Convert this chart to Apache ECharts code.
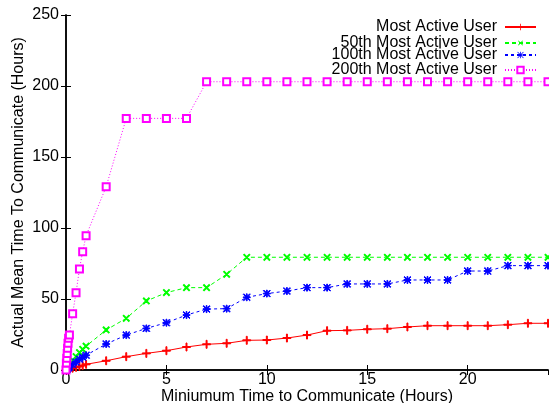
<!DOCTYPE html>
<html lang="en">
  <head>
    <meta charset="UTF-8" />
    <title>Mean Time To Communicate</title>
    <style>
      html, body { margin: 0; padding: 0; background: #fff; }
      #chart { width: 549px; height: 403px; }
    </style>
  </head>
  <body>
    <div id="chart"></div>
    <script src="https://cdn.jsdelivr.net/npm/echarts@6/dist/echarts.min.js"></script>
    <script>
      // x samples (hours): fine steps near 0, then hourly
      var hours = [0, 0.02, 0.04, 0.06, 0.08, 0.1, 0.13, 0.17, 0.33, 0.5, 0.67, 0.83, 1,
        2, 3, 4, 5, 6, 7, 8, 9, 10, 11, 12, 13, 14, 15, 16, 17, 18, 19, 20, 21, 22, 23, 24];

      var mostActive = [0, 0.1, 0.2, 0.3, 0.4, 0.5, 0.6, 0.8, 1.3, 1.9, 2.5, 3.1, 4.0,
        6.5, 9.4, 11.7, 13.6, 16.2, 18.1, 18.8, 20.9, 21.1, 22.5, 24.6, 27.7, 27.9, 28.7,
        29.1, 30.3, 31.2, 31.2, 31.2, 31.2, 31.9, 32.9, 32.9];
      var active50 = [0, 0.6, 1.1, 1.6, 2.1, 2.6, 3.2, 4.0, 6.8, 9.5, 12.3, 14.6, 16.8,
        28.2, 36.4, 48.6, 54.5, 58.0, 58.0, 67.4, 79.4, 79.4, 79.4, 79.4, 79.4, 79.4, 79.4,
        79.4, 79.4, 79.4, 79.4, 79.4, 79.4, 79.4, 79.4, 79.4];
      var active100 = [0, 0.3, 0.6, 0.9, 1.2, 1.5, 1.9, 2.3, 3.8, 5.6, 7.6, 9.0, 10.4,
        18.3, 24.6, 29.3, 33.3, 38.7, 42.9, 43.2, 51.2, 53.8, 55.6, 58.0, 58.0, 60.6, 60.6,
        60.6, 63.4, 63.4, 63.4, 69.7, 69.7, 73.5, 73.5, 73.5];
      var active200 = [0, 4.9, 8.2, 11.7, 15.3, 18.8, 22.3, 24.6, 39.6, 54.4, 71.1, 83.3, 94.6,
        129.1, 177.2, 177.2, 177.2, 177.2, 203, 203, 203, 203, 203, 203, 203, 203, 203,
        203, 203, 203, 203, 203, 203, 203, 203, 203];

      var names = ['Most Active User', '50th Most Active User', '100th Most Active User', '200th Most Active User'];

      var plusPath = 'path://M0,4.4H10V5.6H0ZM4.4,0H5.6V10H4.4Z';
      var starPath = 'path://M0,4.4H10V5.6H0ZM4.4,0H5.6V10H4.4ZM0.8,0L10,9.2L9.2,10L0,0.8ZM9.2,0L10,0.8L0.8,10L0,9.2Z';

      function pairs(ys) {
        return hours.map(function (x, i) { return [x, ys[i]]; });
      }

      var font = 'Liberation Sans, Arial, Helvetica, sans-serif';
      var chart = echarts.init(document.getElementById('chart'));

      function line(name, ys, color, dash, symbol, size, rotate) {
        return {
          name: name,
          type: 'line',
          data: pairs(ys),
          symbol: symbol,
          symbolSize: size,
          symbolRotate: rotate || 0,
          showAllSymbol: true,
          lineStyle: { color: color, width: 1, type: dash },
          itemStyle: { color: color, borderColor: color },
          emphasis: { disabled: true },
          animation: false
        };
      }

      var legendTops = [19, 35, 47, 62];
      var legends = names.map(function (n, i) {
        return {
          data: [n],
          right: 12,
          top: legendTops[i],
          padding: 0,
          align: 'right',
          itemWidth: 31,
          itemHeight: 8,
          selectedMode: false,
          textStyle: { fontFamily: font, fontSize: 16, color: '#000', padding: [0, 3, 0, 0] }
        };
      });

      var axisCommon = {
        axisLine: { lineStyle: { color: '#000', width: 1.5 } },
        axisTick: { inside: true, length: 5, lineStyle: { color: '#000' } },
        splitLine: { show: false }
      };

      var option = {
        animation: false,
        backgroundColor: '#fff',
        grid: { left: 66, right: 1, top: 15, bottom: 33, containLabel: false, outerBoundsMode: 'none' },
        legend: legends,
        xAxis: [
          Object.assign({
            type: 'value', min: 0, max: 24, interval: 5,
            name: 'Miniumum Time to Communicate (Hours)',
            nameLocation: 'middle', nameGap: 19, nameMoveOverlap: false,
            nameTextStyle: { fontFamily: font, fontSize: 16, color: '#000' },
            axisLabel: { fontFamily: font, fontSize: 16, color: '#000', margin: 2, showMaxLabel: false }
          }, axisCommon),
          Object.assign({
            type: 'value', min: 0, max: 24, interval: 5, position: 'top',
            axisLabel: { show: false }
          }, axisCommon)
        ],
        yAxis: [
          Object.assign({
            type: 'value', min: 0, max: 250, interval: 50,
            name: 'Actual Mean Time To Communicate (Hours)',
            nameLocation: 'middle', nameGap: 39, nameMoveOverlap: false,
            nameTextStyle: { fontFamily: font, fontSize: 16, color: '#000' },
            axisLabel: { fontFamily: font, fontSize: 16, color: '#000', margin: 7 }
          }, axisCommon),
          Object.assign({
            type: 'value', min: 0, max: 250, interval: 50, position: 'right',
            axisLabel: { show: false }
          }, axisCommon)
        ],
        series: [
          line(names[0], mostActive, '#ff0000', 'solid', plusPath, 8),
          line(names[1], active50, '#00ff00', [4, 3], plusPath, 8, 45),
          line(names[2], active100, '#0000ff', [3, 3], starPath, 7),
          line(names[3], active200, '#ff00ff', [1, 2], 'emptyRect', 7)
        ]
      };

      chart.setOption(option);
    </script>
  </body>
</html>
